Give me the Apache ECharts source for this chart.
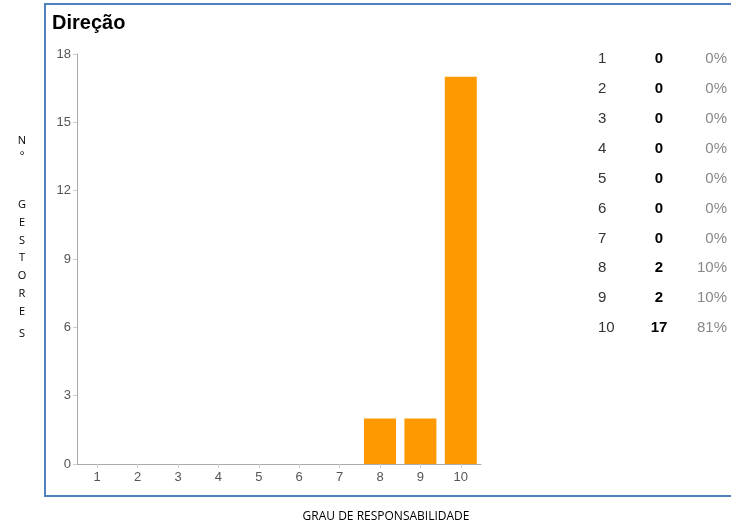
<!DOCTYPE html>
<html>
<head>
<meta charset="utf-8">
<script src="https://cdn.jsdelivr.net/npm/echarts@6/dist/echarts.min.js"></script>
<style>
html,body{margin:0;padding:0;background:#fff;}
#chart{width:731px;height:530px;}
</style>
</head>
<body>
<div id="chart"></div>
<script>
const categories = ['1','2','3','4','5','6','7','8','9','10'];
const counts = [0,0,0,0,0,0,0,2,2,17];
const percentLabels = ['0%','0%','0%','0%','0%','0%','0%','10%','10%','81%'];
const yTicks = [0,3,6,9,12,15,18];
const title = 'Direção';
const yAxisLetters = ['N','º','','','G','E','S','T','O','R','E','S'];
const xAxisTitle = 'GRAU DE RESPONSABILIDADE';

const chart = echarts.init(document.getElementById('chart'), null, {renderer:'canvas'});

const graphics = [
  {type:'rect', shape:{x:45,y:4,width:800,height:492}, style:{fill:'none',stroke:'#4f81bd',lineWidth:2}, z:-1},
  {type:'text', x:52, y:23, style:{text:title, font:'bold 20px "Liberation Sans", Arial', fill:'#000', textVerticalAlign:'middle'}},
  {type:'text', x:386, y:517, style:{text:xAxisTitle, font:'12px "Open Sans", "Liberation Sans"', fill:'#000', textAlign:'center', textVerticalAlign:'middle'}}
];
// vertical stacked letters
const letterY = [141,157,176,188,205,223,241,258,276,294,312,334];
yAxisLetters.forEach((l,i)=>{
  if(!l) return;
  graphics.push({type:'text', x:22, y:letterY[i], style:{text:l, font:'11px "Open Sans", "Liberation Sans"', fill:'#000', textAlign:'center', textVerticalAlign:'middle'}});
});
// summary table
categories.forEach((c,i)=>{
  const y = 59 + i*29.9;
  graphics.push({type:'text', x:598, y:y, style:{text:c, font:'15px "Liberation Sans", Arial', fill:'#333', textAlign:'left', textVerticalAlign:'middle'}});
  graphics.push({type:'text', x:659, y:y, style:{text:String(counts[i]), font:'bold 15px "Liberation Sans", Arial', fill:'#000', textAlign:'center', textVerticalAlign:'middle'}});
  graphics.push({type:'text', x:727, y:y, style:{text:percentLabels[i], font:'15px "Liberation Sans", Arial', fill:'#888', textAlign:'right', textVerticalAlign:'middle'}});
});

chart.setOption({
  animation:false,
  grid:{left:77, top:54, width:404, height:410, containLabel:false},
  xAxis:{
    type:'category', data:categories,
    axisLine:{lineStyle:{color:'#aaa',width:1}},
    axisTick:{show:true, alignWithLabel:true, length:4, lineStyle:{color:'#ccc'}},
    axisLabel:{color:'#555', fontSize:13, fontFamily:'"Liberation Sans", Arial', margin:7}
  },
  yAxis:{
    type:'value', min:0, max:18, interval:3,
    splitLine:{show:false},
    axisLine:{show:true, lineStyle:{color:'#aaa',width:1}},
    axisTick:{show:true, length:4, lineStyle:{color:'#ccc'}},
    axisLabel:{color:'#555', fontSize:13, fontFamily:'"Liberation Sans", Arial', margin:6,
      formatter:v=> yTicks.includes(v) ? String(v) : ''}
  },
  series:[{
    type:'bar', data:counts, barWidth:32,
    itemStyle:{color:'#ff9900'}
  }],
  graphic:graphics
});
</script>
</body>
</html>
